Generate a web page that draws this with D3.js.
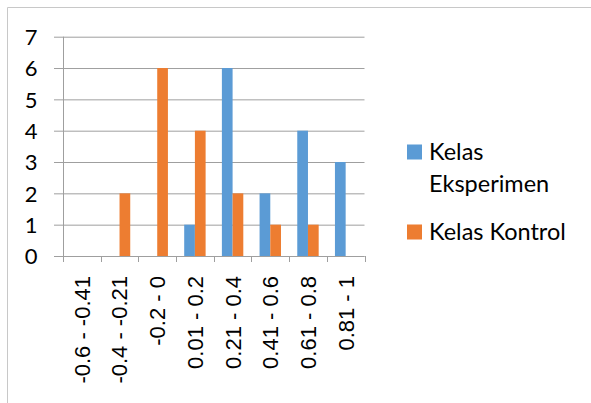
<!DOCTYPE html>
<html>
<head>
<meta charset="utf-8">
<script src="https://cdn.jsdelivr.net/npm/d3@7"></script>
<style>
	body { margin: 0; background: #fff; }
	svg { display: block; }
</style>
</head>
<body>
<div id="chart"></div>
<script>
/* grouped bar chart - kelas eksperimen vs kontrol */

var categories = ["-0.6 - -0.41", "-0.4 - -0.21", "-0.2 - 0", "0.01 - 0.2",
	"0.21 - 0.4", "0.41 - 0.6", "0.61 - 0.8", "0.81 - 1"];
var seriesNames = ["Kelas Eksperimen", "Kelas Kontrol"];
var eksperimen = [0, 0, 0, 1, 6, 2, 4, 3];
var kontrol = [0, 2, 6, 4, 2, 1, 1, 0];
var yTicks = [0, 1, 2, 3, 4, 5, 6, 7];
var colors = ["#5b9bd5", "#ed7d31"];

var W = 591, H = 403;

var svg = d3.select("#chart").append("svg")
	.attr("width", W)
	.attr("height", H);

// chart frame (only top and left edges are visible)
svg.append("path")
	.attr("d", "M7.5," + H + "V7.5H" + W)
	.attr("fill", "none")
	.attr("stroke", "#c8c8c8");

var plot = {left: 63, right: 364.5, top: 36.7, bottom: 256};

var x = d3.scaleBand()
	.domain(categories)
	.range([plot.left, plot.right]);

var xInner = d3.scaleBand()
	.domain(seriesNames)
	.range([0, x.bandwidth()])
	.paddingInner(0)
	.paddingOuter(0.76);

var y = d3.scaleLinear()
	.domain([0, 7])
	.range([plot.bottom, plot.top]);

// y axis with gridlines
var yAxis = svg.append("g")
	.attr("transform", "translate(" + plot.left + ",0)")
	.call(d3.axisLeft(y).tickValues(yTicks).tickFormat(d3.format("d")).tickSizeOuter(0).tickPadding(0));

yAxis.select(".domain").attr("stroke", "#9f9f9f").attr("d", "M0.5," + plot.top + "V" + plot.bottom);
yAxis.selectAll(".tick line")
	.attr("x1", -9)
	.attr("x2", plot.right - plot.left)
	.attr("stroke", "#9f9f9f");
yAxis.selectAll(".tick text")
	.attr("x", -25.5)
	.attr("dy", "0.36em")
	.attr("fill", "#000")
	.style("font-family", "Lato, 'Open Sans', sans-serif")
	.style("font-size", "22px");

// bars
var data = categories.map((c, i) => ({cat: c, values: [eksperimen[i], kontrol[i]]}));

var groups = svg.append("g").selectAll("g")
	.data(data)
	.enter().append("g")
	.attr("transform", d => "translate(" + x(d.cat) + ",0)");

groups.selectAll("rect")
	.data(d => d.values.map((v, j) => ({name: seriesNames[j], value: v, j: j})))
	.enter().append("rect")
	.filter(d => d.value > 0)
	.attr("x", d => xInner(d.name))
	.attr("width", xInner.bandwidth())
	.attr("y", d => y(d.value))
	.attr("height", d => y(0) - y(d.value))
	.attr("fill", d => colors[d.j]);

// x axis
var xAxis = svg.append("g")
	.attr("transform", "translate(0," + plot.bottom + ")");

xAxis.append("line")
	.attr("x1", plot.left - 9).attr("x2", plot.right)
	.attr("y1", 0.5).attr("y2", 0.5)
	.attr("stroke", "#9f9f9f");

var edges = categories.map(c => x(c)).concat([plot.right]);
xAxis.selectAll(".xtick")
	.data(edges)
	.enter().append("line")
	.attr("x1", d => Math.round(d) + 0.5).attr("x2", d => Math.round(d) + 0.5)
	.attr("y1", 0).attr("y2", 6)
	.attr("stroke", "#9f9f9f");

xAxis.selectAll(".xlabel")
	.data(categories)
	.enter().append("text")
	.attr("transform", d => "translate(" + (x(d) + x.bandwidth() / 2) + ",20) rotate(-90)")
	.attr("text-anchor", "end")
	.attr("dy", "0.36em")
	.style("font-family", "'Liberation Sans', Arial, sans-serif")
	.style("font-size", "22px")
	.text(d => d);

// legend
var legend = svg.append("g");
var legendRows = [
	{lines: ["Kelas", "Eksperimen"], y: 144.5},
	{lines: ["Kelas Kontrol"], y: 224.5}
];

legendRows.forEach((row, i) => {
	legend.append("rect")
		.attr("x", 407)
		.attr("y", row.y)
		.attr("width", 15)
		.attr("height", 15)
		.attr("fill", colors[i]);
	row.lines.forEach((t, k) => {
		legend.append("text")
			.attr("x", 429)
			.attr("y", row.y + 15.5 + k * 31.5)
			.style("font-family", "Lato, 'Open Sans', sans-serif")
			.style("font-size", "23.5px")
			.text(t);
	});
});
</script>
</body>
</html>
